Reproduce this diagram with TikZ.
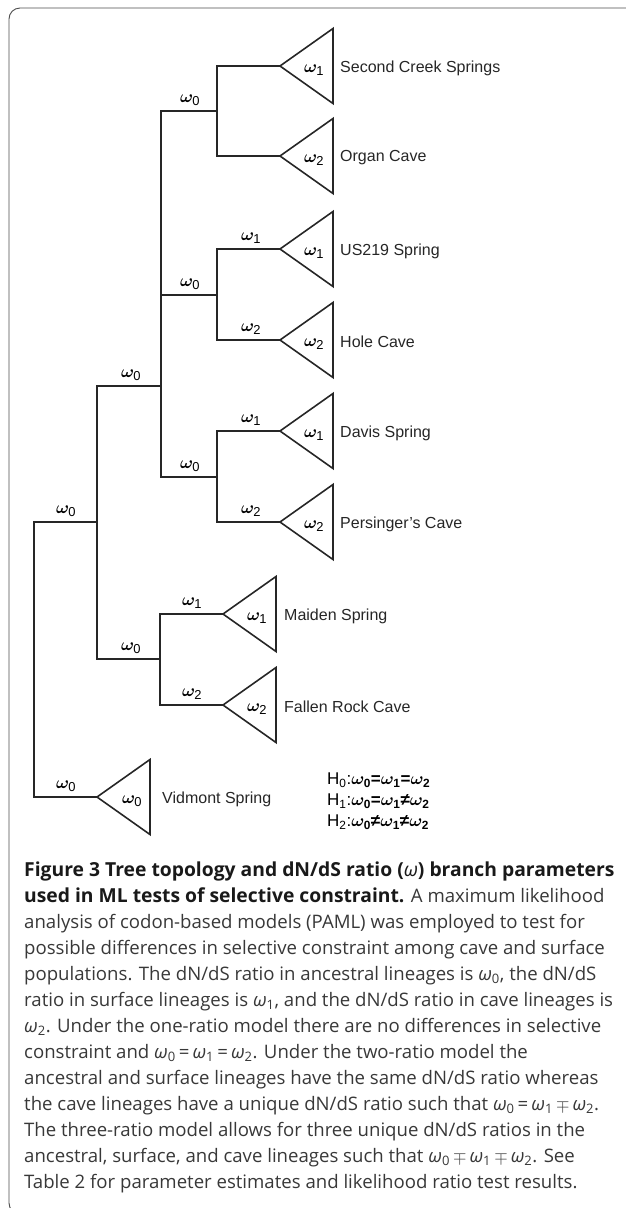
\documentclass[tikz,border=0pt]{standalone}
\usepackage{fontspec}
\setmainfont{Liberation Sans}
\newfontfamily\capfont{Open Sans}
\newcommand\om[1]{{\boldmath$\omega$}\kern-0.8pt\textsubscript{#1}}
\newcommand\cw[1]{{\itshape ω}\textsubscript{#1}}
\newcommand\hypom[1]{{\boldmath$\omega$}\kern-0.5pt\textsubscript{\bfseries #1}}
\newcommand\capbold{\fontsize{19.3}{22}\selectfont\bfseries\color{black!90}}
\begin{document}
\begin{tikzpicture}[x=1pt,y=-1pt,
  branch/.style={line width=1.6pt, black!85, line join=miter},
  tri/.style={line width=1.6pt, black!85, line join=miter},
  blab/.style={font=\fontsize{18.5}{20}\selectfont, inner sep=0pt},
  tlab/.style={font=\fontsize{18.5}{20}\selectfont, inner sep=0pt},
  leaflab/.style={font=\fontsize{16}{19}\selectfont, text=black!85, anchor=west, inner sep=0pt},
  capline/.style={font=\capfont\fontsize{18.6}{22}\selectfont, text=black!78, anchor=base west, inner sep=0pt},
  hyp/.style={font=\fontsize{17}{20}\selectfont, anchor=west, inner sep=0pt}]
\useasboundingbox (0,0) rectangle (625,1208);
\draw[line width=0.9pt, black!70, rounded corners=11pt] (9,8) rectangle (650,1214);

% leaf tips
\coordinate (tSC) at (280,66);
\coordinate (tOC) at (280,156);
\coordinate (tUS) at (280,249);
\coordinate (tHC) at (280,340);
\coordinate (tDS) at (280,431);
\coordinate (tPC) at (280,522);
\coordinate (tMS) at (223,614);
\coordinate (tFR) at (223,705);
\coordinate (tVS) at (97,797);
% internal nodes
\coordinate (A) at (217,111);
\coordinate (B) at (217,295);
\coordinate (C) at (217,477);
\coordinate (P) at (161,386);
\coordinate (Q) at (97,522);
\coordinate (D) at (160,659);
\coordinate (R) at (34,650);

% branches
\draw[branch] (tSC) -| (A) |- (tOC);
\draw[branch] (tUS) -| (B) |- (tHC);
\draw[branch] (tDS) -| (C) |- (tPC);
\draw[branch] (A) -| (P) |- (C);
\draw[branch] (B) -- (B -| P);
\draw[branch] (P) -| (Q) |- (D);
\draw[branch] (tMS) -| (D) |- (tFR);
\draw[branch] (Q) -| (R) |- (tVS);

% triangles
\foreach \t in {tSC,tOC,tUS,tHC,tDS,tPC,tMS,tFR,tVS}
  \draw[tri] (\t) -- ++(53,-37.5) -- ++(0,75) -- cycle;

% omegas inside triangles
\node[tlab] (oSC) at (314,70) {\om{1}};
\node[tlab] (oOC) at (314,160) {\om{2}};
\node[tlab] (oUS) at (314,253) {\om{1}};
\node[tlab] (oHC) at (314,344) {\om{2}};
\node[tlab] (oDS) at (314,435) {\om{1}};
\node[tlab] (oPC) at (314,526) {\om{2}};
\node[tlab] (oMS) at (257,618) {\om{1}};
\node[tlab] (oFR) at (257,709) {\om{2}};
\node[tlab] (oVS) at (132,801) {\om{0}};

% leaf labels
\node[leaflab] (lSC) at (340,68) {Second Creek Springs};
\node[leaflab] (lOC) at (340,158) {Organ Cave};
\node[leaflab] (lUS) at (340,251) {US219 Spring};
\node[leaflab] (lHC) at (340,342) {Hole Cave};
\node[leaflab] (lDS) at (340,433) {Davis Spring};
\node[leaflab] (lPC) at (340,524) {Persinger’s Cave};
\node[leaflab] (lMS) at (284,616) {Maiden Spring};
\node[leaflab] (lFR) at (284,707) {Fallen Rock Cave};
\node[leaflab] (lVS) at (162,799) {Vidmont Spring};

% branch labels
\node[blab] (bA) at (190,100) {\om{0}};
\node[blab] (bB) at (190,284) {\om{0}};
\node[blab] (bC) at (190,466) {\om{0}};
\node[blab] (bUS) at (251,238) {\om{1}};
\node[blab] (bHC) at (251,329) {\om{2}};
\node[blab] (bDS) at (251,420) {\om{1}};
\node[blab] (bPC) at (251,511) {\om{2}};
\node[blab] (bP) at (131,375) {\om{0}};
\node[blab] (bQ) at (66,511) {\om{0}};
\node[blab] (bD) at (131,648) {\om{0}};
\node[blab] (bMS) at (192,603) {\om{1}};
\node[blab] (bFR) at (192,694) {\om{2}};
\node[blab] (bVS) at (66,786) {\om{0}};

% hypotheses
\node[hyp] (h0) at (327,780) {H\textsubscript{0}:\hypom{0}\textbf{=}\hypom{1}\textbf{=}\hypom{2}};
\node[hyp] (h1) at (327,801) {H\textsubscript{1}:\hypom{0}\textbf{=}\hypom{1}\textbf{≠}\hypom{2}};
\node[hyp] (h2) at (327,822) {H\textsubscript{2}:\hypom{0}\textbf{≠}\hypom{1}\textbf{≠}\hypom{2}};

% caption
\node[capline] (c1) at (24,876) {\capbold Figure 3 Tree topology and dN/dS ratio ({\mdseries\itshape ω}) branch parameters};
\node[capline] (c2) at (24,902) {{\capbold used in ML tests of selective constraint.} A maximum likelihood};
\node[capline] (c3) at (24,928) {analysis of codon-based models (PAML) was employed to test for};
\node[capline] (c4) at (24,954) {possible differences in selective constraint among cave and surface};
\node[capline] (c5) at (24,980) {populations. The dN/dS ratio in ancestral lineages is \cw{0}, the dN/dS};
\node[capline] (c6) at (24,1006) {ratio in surface lineages is \cw{1}, and the dN/dS ratio in cave lineages is};
\node[capline] (c7) at (24,1032) {\cw{2}. Under the one-ratio model there are no differences in selective};
\node[capline] (c8) at (24,1058) {constraint and \cw{0}\,=\,\cw{1}\,=\,\cw{2}. Under the two-ratio model the};
\node[capline] (c9) at (24,1084) {ancestral and surface lineages have the same dN/dS ratio whereas};
\node[capline] (c10) at (24,1110) {the cave lineages have a unique dN/dS ratio such that \cw{0}\,=\,\cw{1}\,$\mp$\,\cw{2}.};
\node[capline] (c11) at (24,1136) {The three-ratio model allows for three unique dN/dS ratios in the};
\node[capline] (c12) at (24,1162) {ancestral, surface, and cave lineages such that \cw{0}\,$\mp$\,\cw{1}\,$\mp$\,\cw{2}. See};
\node[capline] (c13) at (24,1188) {Table 2 for parameter estimates and likelihood ratio test results.};
\end{tikzpicture}
\end{document}
